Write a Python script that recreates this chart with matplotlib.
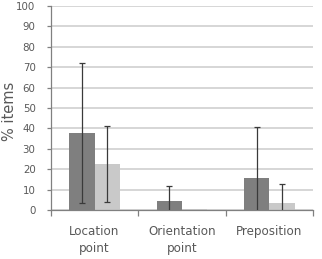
import matplotlib.pyplot as plt
import numpy as np

# categories and series
categories = ['Location\npoint', 'Orientation\npoint', 'Preposition']
dark_vals = [37.8, 4.5, 15.8]
dark_err = [34.3, 7.5, 24.7]
light_vals = [22.6, 0.3, 3.6]
light_err = [18.5, 0.0, 9.4]

dark_col = '#7f7f7f'
light_col = '#c9c9c9'
txt_col = '#595959'

fig = plt.figure(figsize=(3.22, 2.59), dpi=100)
ax = fig.add_axes([0.158, 0.189, 0.814, 0.788])

x = np.arange(len(categories))
w = 0.29
ax.bar(x - w/2, dark_vals, w, color=dark_col, zorder=2)
ax.bar(x + w/2, light_vals, w, color=light_col, zorder=2)
ax.errorbar(x - w/2, dark_vals, yerr=dark_err, fmt='none', ecolor='#3a3a3a',
            elinewidth=0.9, capsize=2.5, capthick=0.9, zorder=3)
le = np.array(light_err)
ax.errorbar((x + w/2)[le > 0], np.array(light_vals)[le > 0], yerr=le[le > 0],
            fmt='none', ecolor='#3a3a3a', elinewidth=0.9, capsize=2.5,
            capthick=0.9, zorder=3)

ax.set_xlim(-0.5, 2.5)
ax.set_ylim(0, 100)
ax.set_yticks(np.arange(0, 101, 10))
ax.yaxis.grid(True, color='#cccccc', linewidth=1.1, zorder=0)
ax.set_axisbelow(True)

ax.set_xticks([-0.5, 0.5, 1.5, 2.5])
ax.set_xticklabels([])
ax.set_xticks(x, minor=True)
ax.set_xticklabels(categories, minor=True, fontsize=8.6, color=txt_col,
                   linespacing=1.4)
ax.tick_params(axis='x', which='minor', length=0, pad=11)
ax.tick_params(axis='x', which='major', length=4, color='#808080', width=0.9)
ax.tick_params(axis='y', length=3, color='#808080', width=0.9,
               labelsize=7.4, labelcolor=txt_col, pad=8)

for s in ['top', 'right']:
    ax.spines[s].set_visible(False)
for s in ['left', 'bottom']:
    ax.spines[s].set_color('#808080')
    ax.spines[s].set_linewidth(0.9)

fig.text(10/322, 1 - 111/259, '% items', rotation=90, fontsize=10.5,
         color=txt_col, ha='center', va='center')

fig.savefig('out.png', dpi=100)
